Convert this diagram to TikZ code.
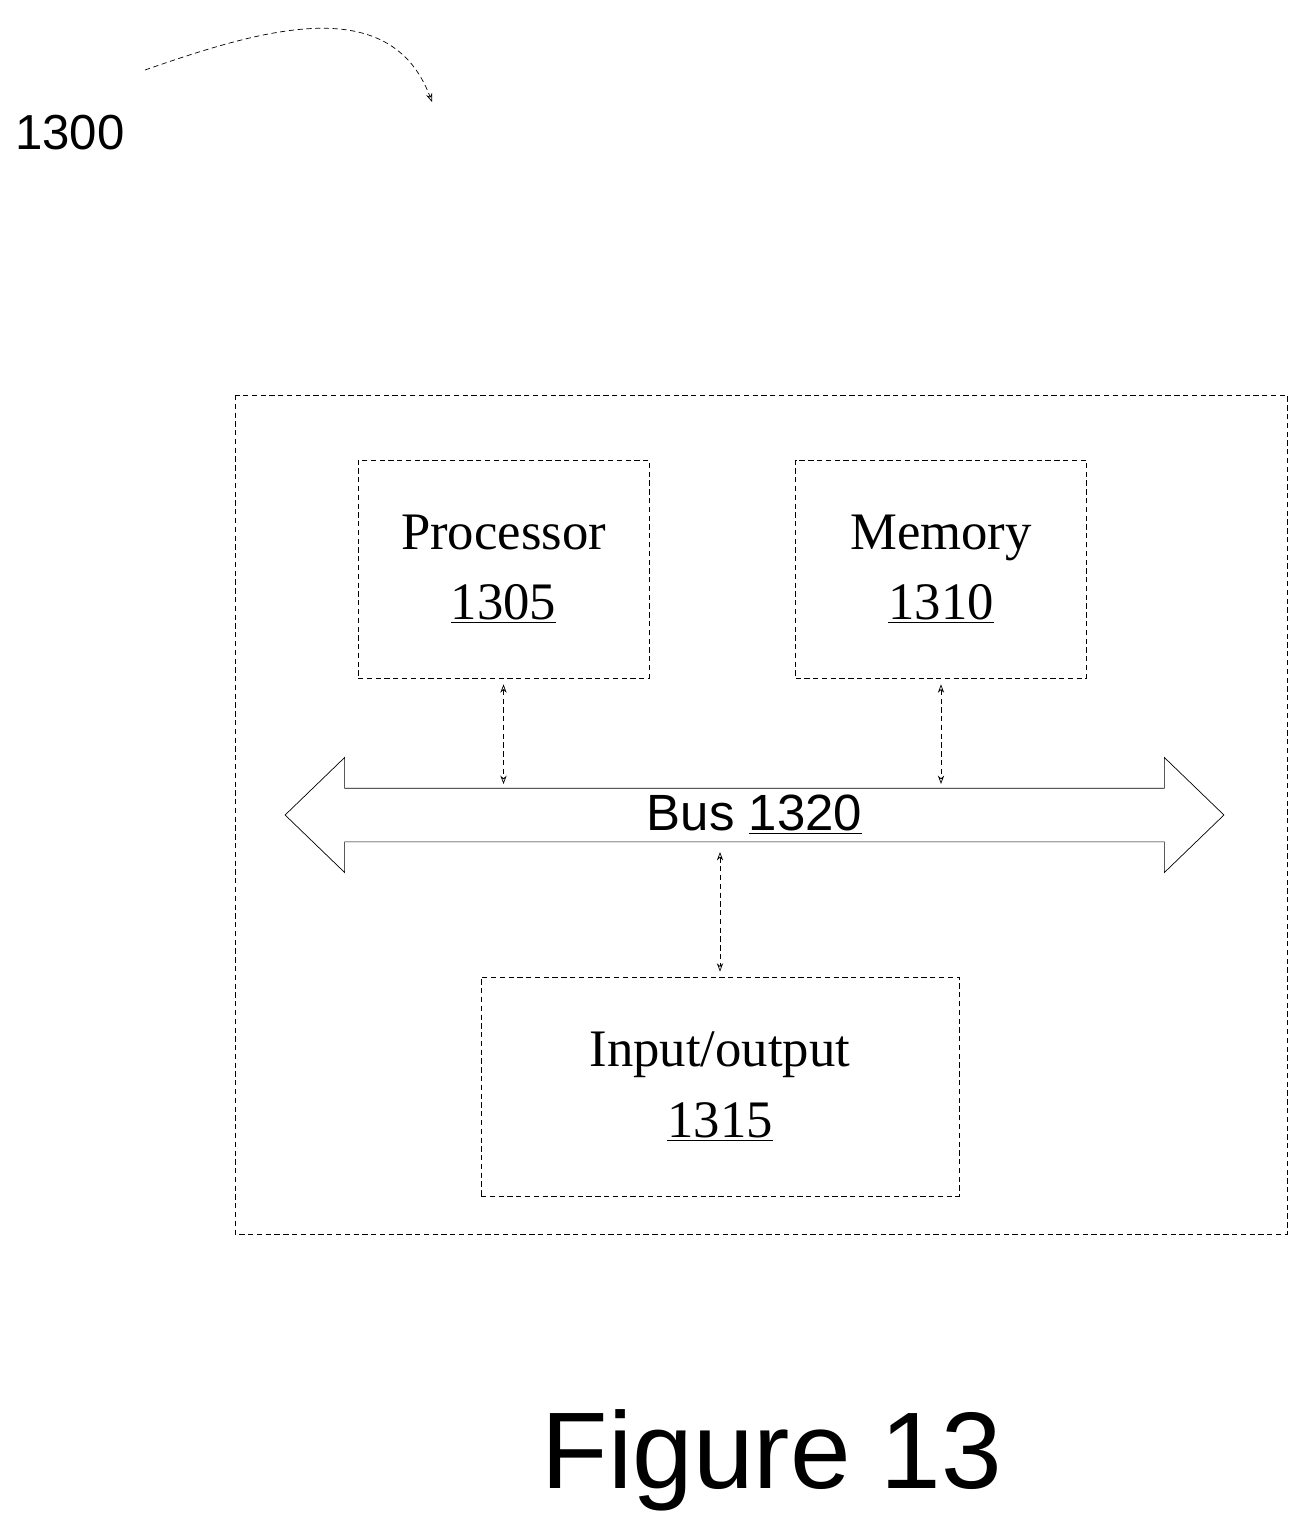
\documentclass[tikz,border=0pt]{standalone}
\usepackage{fontspec}
\setmainfont{Liberation Serif}
\setsansfont{Liberation Sans}
\usetikzlibrary{shapes.arrows,arrows.meta}
\begin{document}
\begin{tikzpicture}[x=0.02cm,y=-0.02cm,
	unit/.style={draw,densely dashed,thin,minimum width=5.82cm,minimum height=4.36cm,align=center,font=\fontsize{30}{40}\selectfont},
	link/.style={densely dashed,thin,{Stealth[open]}-{Stealth[open]}}]
	\useasboundingbox (0,0) rectangle (1308,1523);

	\node[font=\sffamily\fontsize{28}{30}\selectfont] (ref) at (70,133) {1300};
	\coordinate (refa) at (145,70);
	\coordinate (refb) at (432,102);
	\draw[densely dashed,thin,-{Stealth[open]}] (refa) .. controls (260,30) and (390,-10) .. (refb);

	\draw[densely dashed,thin] (235,395) rectangle (1287,1234);

	\node[unit] (proc) at (503.5,569) {Processor\\\underline{1305}};
	\node[unit] (mem) at (941,569) {Memory\\\underline{1310}};
	\node[unit,minimum width=9.56cm,minimum height=4.38cm] (io) at (720,1086.5) {Input/output\\\underline{1315}};

	\node[double arrow,draw,thin,minimum height=18.78cm,minimum width=2.3cm,
		double arrow head extend=0.46cm,double arrow tip angle=88,inner sep=0pt,
		font=\sffamily\fontsize{29}{30}\selectfont] (bus) at (754.5,815) {Bus \underline{1320}};

	\draw[link] ([yshift=-6*0.02cm]proc.south) -- ([yshift=0.62cm]bus.center -| proc.south);
	\draw[link] ([yshift=-6*0.02cm]mem.south) -- ([yshift=0.62cm]bus.center -| mem.south);
	\draw[link] ([yshift=-0.74cm]bus.center -| io.north) -- ([yshift=0.1cm]io.north);

	\node[font=\sffamily\fontsize{62}{70}\selectfont] (fig) at (772,1460) {Figure 13};
\end{tikzpicture}
\end{document}
